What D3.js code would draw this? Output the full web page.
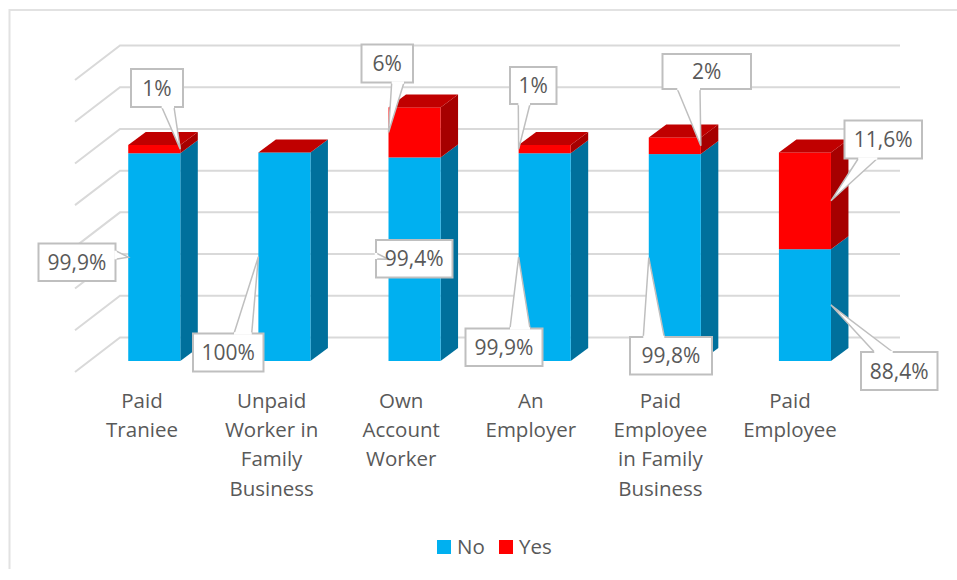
<!DOCTYPE html>
<html>
<head>
<meta charset="utf-8">
<script src="https://cdn.jsdelivr.net/npm/d3@7"></script>
<style>
  html, body { margin: 0; padding: 0; background: #fff; }
  svg { display: block; }
  text { font-family: "Open Sans", sans-serif; fill: #595959; }
</style>
</head>
<body>
<svg id="chart" width="957" height="580"></svg>
<script>
// Employment status, stacked No / Yes shares
const categories = [
  "Paid Traniee",
  "Unpaid Worker in Family Business",
  "Own Account Worker",
  "An Employer",
  "Paid Employee in Family Business",
  "Paid Employee"
];
const categoryLines = [
  ["Paid", "Traniee"],
  ["Unpaid", "Worker in", "Family", "Business"],
  ["Own", "Account", "Worker"],
  ["An", "Employer"],
  ["Paid", "Employee", "in Family", "Business"],
  ["Paid", "Employee"]
];
const noValues = [99.9, 100, 99.4, 99.9, 99.8, 88.4];
const yesValues = [1, 0, 6, 1, 2, 11.6];
const noLabels = ["99,9%", "100%", "99,4%", "99,9%", "99,8%", "88,4%"];
const yesLabels = ["1%", null, "6%", "1%", "2%", "11,6%"];
const gridValues = [75, 80, 85, 90, 95, 100, 105, 110];

// Value axis starts at 75; categories sit on the front plane of the bars
const y = d3.scaleLinear().domain([75, 110]).range([361, 69]);
const x = d3.scaleBand().domain(categories).range([89.2, 870])
  .paddingInner(0.6).paddingOuter(0.3);
// Category captions run on a slightly tighter pitch than the bars
const labelX = d3.scalePoint().domain(categories).range([142, 790]);

const depth = { x: 17.5, y: 13 };       // bar extrusion
const wall = { left: 75, back: 120, right: 900, rise: 23.5, drop: 11 };

const colors = {
  No: { front: "#00b0f0", side: "#00709c" },
  Yes: { front: "#ff0000", side: "#a60000", top: "#c00000" }
};

const svg = d3.select("#chart");

// Chart frame: only the top and left edges show
svg.append("path")
  .attr("d", "M9.5,569V10H957")
  .attr("fill", "none")
  .attr("stroke", "#e2e2e2")
  .attr("stroke-width", 2);

// Back-wall gridlines with their run down the side wall
svg.append("g").selectAll("path")
  .data(gridValues)
  .join("path")
  .attr("d", v => `M${wall.left},${y(v) + wall.drop}L${wall.back},${y(v) - wall.rise}H${wall.right}`)
  .attr("fill", "none")
  .attr("stroke", "#d9d9d9")
  .attr("stroke-width", 2);

// Extruded stacked bars
const bars = svg.append("g").selectAll("g")
  .data(categories)
  .join("g");

bars.each(function (c, i) {
  const g = d3.select(this);
  const x0 = x(c), w = x.bandwidth(), x1 = x0 + w;
  const base = y(75), yNo = y(noValues[i]), yTop = y(noValues[i] + yesValues[i]);
  const side = (a, b, fill) => g.append("path")
    .attr("d", `M${x1},${a}L${x1 + depth.x},${a - depth.y}V${b - depth.y}L${x1},${b}Z`)
    .attr("fill", fill);
  const front = (a, b, fill) => g.append("rect")
    .attr("x", x0).attr("y", a).attr("width", w).attr("height", b - a)
    .attr("fill", fill);
  side(yNo, base, colors.No.side);
  side(yTop, yNo, colors.Yes.side);
  front(yNo, base, colors.No.front);
  front(yTop, yNo, colors.Yes.front);
  g.append("path")
    .attr("d", `M${x0},${yTop}L${x0 + depth.x},${yTop - depth.y}H${x1 + depth.x}L${x1},${yTop}Z`)
    .attr("fill", colors.Yes.top);
});

// Callout placement: box corners, the two points where the tail leaves the box,
// and the bar edge the tail points at
const noCallouts = [
  { box: [38.5, 243.5, 115.5, 281], tail: [[115.5, 250.7], [115.5, 259.3]], edge: "left" },
  { box: [193, 333.5, 263.5, 371.5], tail: [[234, 333.5], [251.7, 333.5]], edge: "left" },
  { box: [376, 240, 452.5, 277.5], tail: [[376, 253], [376, 259]], edge: "left" },
  { box: [465.5, 328.5, 542.5, 366], tail: [[510, 328.5], [530, 328.5]], edge: "left" },
  { box: [630, 337, 712, 374.5], tail: [[643.3, 337], [664.3, 337]], edge: "left" },
  { box: [861, 352, 937.5, 390], tail: [[874.3, 352], [892.7, 352]], edge: "right" }
];
const yesCallouts = [
  { box: [131, 69, 183, 107], tail: [[161.7, 107], [174, 107]], edge: "right" },
  null,
  { box: [361.5, 44.5, 413, 82.5], tail: [[391.7, 82.5], [404, 82.5]], edge: "left" },
  { box: [510, 67, 556.5, 104], tail: [[518.3, 104], [530, 104]], edge: "left" },
  { box: [662.5, 54, 751, 89], tail: [[677.3, 89], [700, 89]], edge: "right" },
  { box: [844.5, 120.5, 922, 158.5], tail: [[858.3, 158.5], [877.3, 158.5]], edge: "right" }
];

function drawCallout(layout, label, c, top, bottom) {
  if (!layout) return;
  const [l, t, r, b] = layout.box;
  const tip = [
    layout.edge === "left" ? x(c) : x(c) + x.bandwidth(),
    (y(top) + y(bottom)) / 2
  ];
  const g = svg.append("g");
  g.append("rect")
    .attr("x", l).attr("y", t).attr("width", r - l).attr("height", b - t)
    .attr("fill", "#fff").attr("stroke", "#bfbfbf").attr("stroke-width", 2);
  g.append("path")
    .attr("d", `M${layout.tail[0]}L${tip}L${layout.tail[1]}`)
    .attr("fill", "#fff").attr("stroke", "#bfbfbf").attr("stroke-width", 1.5);
  // Covers the box border where the tail joins it
  g.append("path")
    .attr("d", `M${layout.tail[0]}L${layout.tail[1]}`)
    .attr("stroke", "#fff").attr("stroke-width", 2.5);
  g.append("text")
    .attr("x", (l + r) / 2).attr("y", (t + b) / 2 + 7.5)
    .attr("text-anchor", "middle")
    .attr("font-size", 21)
    .text(label);
}

categories.forEach((c, i) => {
  drawCallout(noCallouts[i], noLabels[i], c, noValues[i], 75);
  drawCallout(yesCallouts[i], yesLabels[i], c, noValues[i] + yesValues[i], noValues[i]);
});

// Category captions
const labelBase = 407.5, lineHeight = 29.4;
svg.append("g").selectAll("text")
  .data(categories)
  .join("text")
  .attr("text-anchor", "middle")
  .attr("font-size", 20.5)
  .each(function (c, i) {
    d3.select(this).selectAll("tspan")
      .data(categoryLines[i])
      .join("tspan")
      .attr("x", labelX(c))
      .attr("y", (d, j) => labelBase + j * lineHeight)
      .text(d => d);
  });

// Legend
const legendItems = [
  { name: "No", swatch: 437, text: 457 },
  { name: "Yes", swatch: 499, text: 519 }
];
const legend = svg.append("g").selectAll("g").data(legendItems).join("g");
legend.append("rect")
  .attr("x", d => d.swatch).attr("y", 540).attr("width", 14).attr("height", 14)
  .attr("fill", d => colors[d.name].front);
legend.append("text")
  .attr("x", d => d.text).attr("y", 553.5)
  .attr("font-size", 20.5)
  .text(d => d.name);
</script>
</body>
</html>
